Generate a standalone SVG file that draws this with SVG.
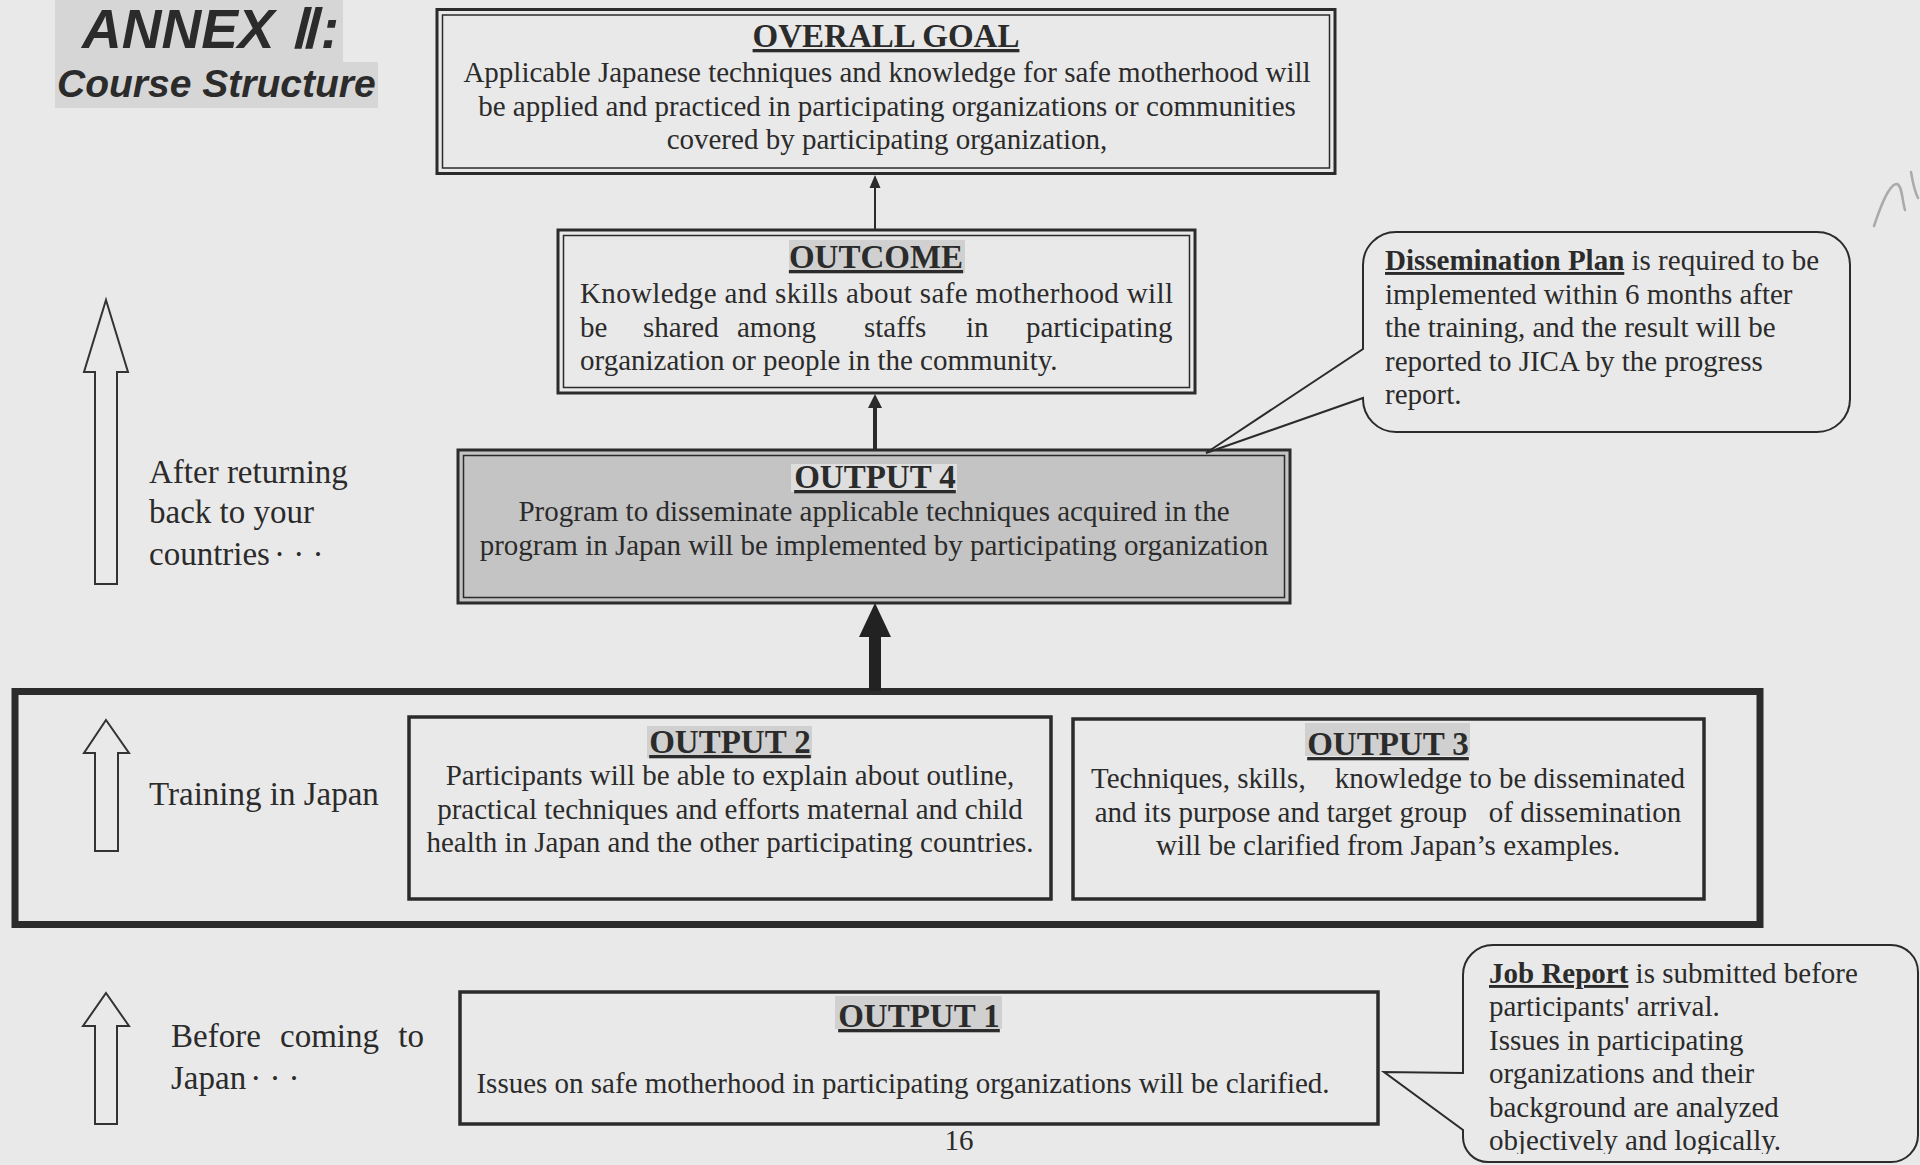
<svg xmlns="http://www.w3.org/2000/svg" width="1920" height="1165" viewBox="0 0 1920 1165">
<defs>
<style>
.bg{fill:#e9e9e9}
.t{font-family:"Liberation Serif","Times New Roman",serif;fill:#2b2b2b}
.body{font-size:29px}
.ctr{text-anchor:middle}
.ttl{font-size:33px;font-weight:bold;text-decoration:underline}
.hl{fill:#d0d0d0}
.box{fill:none;stroke:#2b2b2b}
.outer{stroke-width:3}
.inner{stroke-width:1.5}
.single{stroke-width:3.5}
.blk{fill:none;stroke:#333;stroke-width:2}
.lbl{font-size:33px}
.head{font-family:"Liberation Sans",Arial,sans-serif;font-weight:bold;font-style:italic;fill:#2b2b2b}
</style>
<clipPath id="jobclip"><rect x="1460" y="940" width="460" height="214"/></clipPath>
</defs>
<rect class="bg" x="0" y="0" width="1920" height="1165"/>

<g id="title">
<rect x="55" y="0" width="288" height="63" fill="#d6d6d6"/>
<rect x="55" y="62" width="323" height="46" fill="#d6d6d6"/>
<text class="head" x="82" y="48" font-size="55">ANNEX <tspan>Ⅱ</tspan><tspan dx="4">:</tspan></text>
<text class="head" x="57" y="97" font-size="39">Course Structure</text>
</g>

<g id="goal">
<rect class="box outer" x="437" y="9.5" width="898" height="164"/>
<rect class="box inner" x="442.5" y="15" width="887" height="153"/>
<text class="t ttl ctr" x="886" y="47">OVERALL GOAL</text>
<text class="t body ctr" x="887" y="82">Applicable Japanese techniques and knowledge for safe motherhood will</text>
<text class="t body ctr" x="887" y="116">be applied and practiced in participating organizations or communities</text>
<text class="t body ctr" x="887" y="149">covered by participating organization,</text>
</g>

<g id="outcome">
<rect class="box outer" x="558" y="230" width="637" height="163"/>
<rect class="box inner" x="563.5" y="235.5" width="626" height="152"/>
<rect class="hl" x="789" y="240" width="176" height="33"/>
<text class="t ttl ctr" x="876" y="268">OUTCOME</text>
<text class="t body" x="580" y="303" textLength="593" lengthAdjust="spacing">Knowledge and skills about safe motherhood will</text>
<text class="t body" y="337"><tspan x="580">be</tspan><tspan x="643">shared</tspan><tspan x="737">among</tspan><tspan x="864">staffs</tspan><tspan x="966">in</tspan><tspan x="1026">participating</tspan></text>
<text class="t body" x="580" y="370">organization or people in the community.</text>
</g>

<g id="output4">
<rect x="458" y="450" width="832" height="153" fill="#c4c4c4" stroke="#2b2b2b" stroke-width="3"/>
<rect class="box inner" x="463.5" y="455.5" width="821" height="142"/>
<rect x="791" y="464" width="166" height="28" fill="#dedede"/>
<text class="t ttl ctr" x="875" y="488">OUTPUT 4</text>
<text class="t body ctr" x="874" y="521">Program to disseminate applicable techniques acquired in the</text>
<text class="t body ctr" x="874" y="555">program in Japan will be implemented by participating organization</text>
</g>

<g id="training-frame">
<rect x="15" y="691.5" width="1745" height="233" fill="none" stroke="#2b2b2b" stroke-width="7"/>
</g>

<g id="output2">
<rect class="box single" x="409" y="717" width="642" height="182"/>
<rect class="hl" x="647" y="726" width="165" height="32"/>
<text class="t ttl ctr" x="730" y="753">OUTPUT 2</text>
<text class="t body ctr" x="730" y="785">Participants will be able to explain about outline,</text>
<text class="t body ctr" x="730" y="819">practical techniques and efforts maternal and child</text>
<text class="t body ctr" x="730" y="852">health in Japan and the other participating countries.</text>
</g>

<g id="output3">
<rect class="box single" x="1073" y="719" width="631" height="180"/>
<rect class="hl" x="1305" y="723" width="165" height="33"/>
<text class="t ttl ctr" x="1388" y="755">OUTPUT 3</text>
<text class="t body ctr" x="1388" y="788" xml:space="preserve">Techniques, skills,    knowledge to be disseminated</text>
<text class="t body ctr" x="1388" y="822" xml:space="preserve">and its purpose and target group   of dissemination</text>
<text class="t body ctr" x="1388" y="855">will be clarified from Japan’s examples.</text>
</g>

<g id="output1">
<rect class="box single" x="460" y="992" width="918" height="132"/>
<rect class="hl" x="835" y="996" width="167" height="33"/>
<text class="t ttl ctr" x="919" y="1027">OUTPUT 1</text>
<text class="t body ctr" x="903" y="1093">Issues on safe motherhood in participating organizations will be clarified.</text>
</g>

<g id="dissemination-callout">
<path d="M1396,232 H1817 A33,33 0 0 1 1850,265 V399 A33,33 0 0 1 1817,432 H1396 A33,33 0 0 1 1363,399 V398 L1206,453 L1363,349 V265 A33,33 0 0 1 1396,232 Z" fill="#e9e9e9" stroke="#2b2b2b" stroke-width="2"/>
<text class="t" font-size="29" x="1385" y="270"><tspan font-weight="bold" text-decoration="underline">Dissemination Plan</tspan> is required to be</text>
<text class="t" font-size="29" x="1385" y="304">implemented within 6 months after</text>
<text class="t" font-size="29" x="1385" y="337">the training, and the result will be</text>
<text class="t" font-size="29" x="1385" y="371">reported to JICA by the progress</text>
<text class="t" font-size="29" x="1385" y="404">report.</text>
</g>

<g id="job-report-callout">
<path d="M1493,945 H1891 A27,27 0 0 1 1918,972 V1135 A27,27 0 0 1 1891,1162 H1488 A25,25 0 0 1 1463,1137 V1130 L1384,1072 L1463,1073 V975 A30,30 0 0 1 1493,945 Z" fill="#e9e9e9" stroke="#2b2b2b" stroke-width="2"/>
<g clip-path="url(#jobclip)">
<text class="t" font-size="29" x="1489" y="983"><tspan font-weight="bold" text-decoration="underline">Job Report</tspan> is submitted before</text>
<text class="t" font-size="29" x="1489" y="1016">participants' arrival.</text>
<text class="t" font-size="29" x="1489" y="1050">Issues in participating</text>
<text class="t" font-size="29" x="1489" y="1083">organizations and their</text>
<text class="t" font-size="29" x="1489" y="1117">background are analyzed</text>
<text class="t" font-size="29" x="1489" y="1150">objectively and logically.</text>
</g>
</g>

<g id="phase-after">
<path class="blk" d="M106,300 L128,372 L117,372 L117,584 L95,584 L95,372 L84,372 Z"/>
<text class="t lbl" x="149" y="483">After returning</text>
<text class="t lbl" x="149" y="523">back to your</text>
<text class="t lbl" x="149" y="565">countries<tspan dx="4">· · ·</tspan></text>
</g>

<g id="phase-training">
<path class="blk" d="M106,720 L129,753 L118,753 L118,851 L95,851 L95,753 L84,753 Z"/>
<text class="t lbl" x="149" y="805">Training in Japan</text>
</g>

<g id="phase-before">
<path class="blk" d="M106,993 L129,1026 L117,1026 L117,1124 L95,1124 L95,1026 L83,1026 Z"/>
<text class="t lbl" x="171" y="1047" word-spacing="11">Before coming to</text>
<text class="t lbl" x="171" y="1089">Japan<tspan dx="4">· · ·</tspan></text>
</g>

<g id="connectors">
<line x1="875" y1="229" x2="875" y2="186" stroke="#2b2b2b" stroke-width="2"/>
<polygon points="875,175 869.5,188 880.5,188" fill="#2b2b2b"/>
<line x1="875" y1="450" x2="875" y2="405" stroke="#2b2b2b" stroke-width="4"/>
<polygon points="875,394 868,408 882,408" fill="#2b2b2b"/>
<rect x="869" y="636" width="12" height="55" fill="#222"/>
<polygon points="875,603 859,637 891,637" fill="#222"/>
</g>

<text class="t" font-size="29" x="959" y="1150" text-anchor="middle">16</text>
<path d="M1874,226 C1880,208 1888,186 1896,184 C1902,183 1902,200 1905,210 M1911,172 C1913,184 1915,192 1918,198" fill="none" stroke="#aaa" stroke-width="2.5" stroke-linecap="round"/>
</svg>
